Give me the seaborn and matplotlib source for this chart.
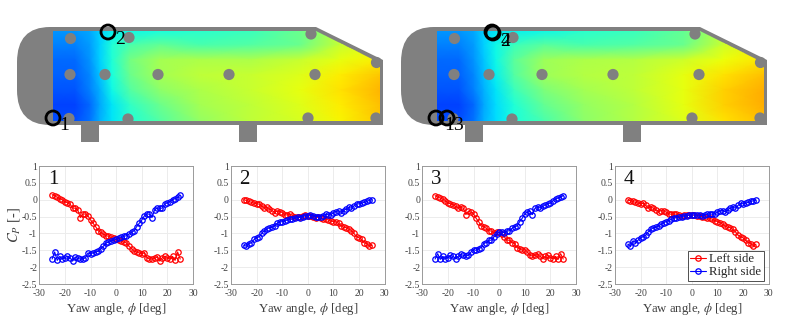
import numpy as np
import pandas as pd
import matplotlib
matplotlib.use("Agg")
import matplotlib.pyplot as plt
import seaborn as sns
from matplotlib.path import Path
from matplotlib.patches import PathPatch, Circle, Rectangle, Polygon

yaw = list(range(-25, 26))

left_1 = [0.15,0.12,0.07,0.03,0.0,-0.06,-0.09,-0.13,-0.25,-0.25,-0.3,-0.53,-0.43,-0.42,-0.48,-0.6,-0.7,-0.8,-0.92,-0.97,-1.02,-1.07,-1.08,-1.12,-1.15,
          -1.18,-1.2,-1.23,-1.26,-1.28,-1.38,-1.45,-1.53,-1.55,-1.58,-1.6,-1.58,-1.72,-1.76,-1.76,-1.74,-1.7,-1.82,-1.72,-1.68,-1.72,-1.76,-1.68,-1.8,-1.55,-1.76]
right_1 = [-1.76,-1.55,-1.8,-1.68,-1.76,-1.72,-1.68,-1.72,-1.82,-1.7,-1.74,-1.76,-1.76,-1.72,-1.58,-1.6,-1.58,-1.55,-1.53,-1.45,-1.38,-1.28,-1.26,-1.23,-1.2,
           -1.18,-1.15,-1.12,-1.08,-1.07,-1.02,-0.97,-0.92,-0.8,-0.7,-0.6,-0.48,-0.42,-0.43,-0.53,-0.3,-0.25,-0.25,-0.25,-0.13,-0.09,-0.06,0.0,0.03,0.07,0.13]
left_2 = [0.0,-0.02,-0.05,-0.08,-0.1,-0.12,-0.13,-0.18,-0.25,-0.23,-0.27,-0.32,-0.38,-0.33,-0.35,-0.38,-0.45,-0.45,-0.43,-0.47,-0.5,-0.5,-0.5,-0.47,-0.45,
          -0.47,-0.48,-0.5,-0.53,-0.52,-0.55,-0.57,-0.58,-0.6,-0.63,-0.65,-0.66,-0.7,-0.78,-0.82,-0.83,-0.87,-0.92,-1.0,-1.1,-1.13,-1.18,-1.28,-1.3,-1.38,-1.35]
right_2 = [-1.35,-1.38,-1.3,-1.28,-1.18,-1.13,-1.1,-1.0,-0.92,-0.87,-0.83,-0.82,-0.78,-0.7,-0.66,-0.65,-0.63,-0.6,-0.58,-0.57,-0.55,-0.52,-0.53,-0.5,-0.48,
           -0.47,-0.45,-0.47,-0.5,-0.5,-0.5,-0.47,-0.43,-0.45,-0.45,-0.38,-0.35,-0.33,-0.38,-0.32,-0.27,-0.23,-0.25,-0.18,-0.13,-0.12,-0.1,-0.08,-0.05,-0.02,0.0]
left_3 = [0.12,0.08,0.05,0.02,-0.03,-0.1,-0.12,-0.15,-0.2,-0.24,-0.23,-0.25,-0.44,-0.34,-0.37,-0.42,-0.55,-0.65,-0.78,-0.8,-0.85,-0.92,-0.93,-0.98,-0.95,
          -0.97,-1.03,-1.1,-1.2,-1.2,-1.27,-1.3,-1.42,-1.45,-1.5,-1.48,-1.55,-1.65,-1.67,-1.65,-1.62,-1.68,-1.75,-1.68,-1.65,-1.72,-1.75,-1.68,-1.77,-1.6,-1.76]
right_3 = [-1.76,-1.6,-1.77,-1.68,-1.75,-1.72,-1.65,-1.68,-1.75,-1.68,-1.62,-1.65,-1.67,-1.65,-1.55,-1.48,-1.5,-1.45,-1.42,-1.3,-1.27,-1.2,-1.2,-1.1,-1.03,
           -0.97,-0.95,-0.98,-0.93,-0.92,-0.85,-0.8,-0.78,-0.65,-0.55,-0.42,-0.37,-0.34,-0.44,-0.25,-0.23,-0.24,-0.2,-0.15,-0.12,-0.1,-0.03,0.02,0.05,0.08,0.12]
left_4 = [-0.01,-0.03,-0.05,-0.08,-0.1,-0.12,-0.11,-0.17,-0.25,-0.22,-0.25,-0.3,-0.36,-0.32,-0.33,-0.37,-0.42,-0.43,-0.42,-0.43,-0.45,-0.47,-0.46,-0.46,-0.45,
          -0.45,-0.46,-0.47,-0.49,-0.5,-0.52,-0.53,-0.55,-0.58,-0.62,-0.65,-0.68,-0.73,-0.78,-0.82,-0.83,-0.88,-0.95,-1.05,-1.1,-1.13,-1.2,-1.27,-1.3,-1.37,-1.32]
right_4 = [-1.32,-1.37,-1.22,-1.27,-1.2,-1.13,-1.1,-1.05,-0.95,-0.88,-0.83,-0.82,-0.78,-0.73,-0.68,-0.65,-0.62,-0.58,-0.55,-0.53,-0.52,-0.5,-0.49,-0.47,-0.46,
           -0.45,-0.45,-0.46,-0.46,-0.47,-0.45,-0.43,-0.42,-0.43,-0.42,-0.37,-0.33,-0.32,-0.36,-0.3,-0.25,-0.22,-0.25,-0.17,-0.11,-0.12,-0.1,-0.08,-0.05,-0.03,-0.01]

panels = ["1", "2", "3", "4"]
lefts = [left_1, left_2, left_3, left_4]
rights = [right_1, right_2, right_3, right_4]
y_ticks = [1, 0.5, 0, -0.5, -1, -1.5, -2, -2.5]
y_labels = ["1", "0.5", "0", "-0.5", "-1", "-1.5", "-2", "-2.5"]
x_ticks = [-30, -20, -10, 0, 10, 20, 30]

# Surface pressure map (jet colormap fraction), columns along the body, rows top to bottom
field_x = [53, 75, 90, 100, 112, 130, 160, 200, 250, 300, 340, 382]
field_y = [31, 45, 60, 75, 90, 105, 121]
field_a = [
    [.27,.27,.29,.33,.36,.37,.38,.40,.42,.48,.57,.62],
    [.25,.25,.28,.33,.39,.44,.47,.44,.45,.48,.59,.64],
    [.23,.23,.27,.33,.39,.49,.55,.56,.56,.59,.63,.66],
    [.22,.22,.26,.32,.38,.48,.55,.58,.59,.62,.66,.70],
    [.21,.21,.25,.30,.37,.45,.52,.56,.59,.63,.67,.72],
    [.19,.19,.23,.29,.35,.41,.48,.55,.58,.62,.66,.71],
    [.20,.20,.24,.30,.35,.39,.45,.53,.58,.61,.65,.70],
]
field_b = [
    [.27,.27,.29,.33,.35,.36,.37,.40,.42,.47,.57,.63],
    [.25,.25,.28,.33,.37,.42,.46,.44,.45,.48,.60,.65],
    [.23,.23,.27,.32,.37,.46,.54,.56,.57,.60,.64,.67],
    [.22,.22,.26,.31,.36,.45,.54,.57,.58,.63,.67,.71],
    [.21,.21,.25,.30,.35,.42,.50,.55,.58,.63,.69,.73],
    [.19,.19,.23,.29,.34,.39,.47,.53,.57,.63,.69,.73],
    [.20,.20,.24,.30,.34,.38,.44,.52,.57,.62,.67,.71],
]

# Body outline and pressure-tap positions of the schematic, in figure pixels
dots_x = [70.5, 129, 311, 376.5, 70, 105, 158, 229, 315, 69, 128, 308, 376]
dots_y = [38.5, 37.5, 34, 62.5, 74.5, 74.5, 74.5, 74.5, 74.5, 118.5, 119, 118, 118]
feet_x = [81, 239]
schem_dx = [0, 384]

rings = [[(53, 118, "1", 64, 125), (108, 32, "2", 120, 40)],
         [(436, 118, "1", 449, 126), (447, 118, "3", 458, 126),
          (492, 32, "2", 505, 42), (493, 33, "4", 506, 42)]]

GRAY = "#808080"
sns.set_theme(style="whitegrid")
plt.rcParams["font.family"] = ["Liberation Serif", "DejaVu Serif"]
plt.rcParams["mathtext.fontset"] = "stix"

W, H = 789, 326
fig = plt.figure(figsize=(W / 100, H / 100), dpi=100)

bg = fig.add_axes([0, 0, 1, 1])
bg.set_xlim(0, W)
bg.set_ylim(H, 0)
bg.axis("off")

for dx, field, marks in zip(schem_dx, [field_a, field_b], rings):
    verts = [(50 + dx, 27), (316 + dx, 27), (383 + dx, 60), (383 + dx, 125), (50 + dx, 125),
             (17 + dx, 125), (17 + dx, 90), (17 + dx, 62), (17 + dx, 27), (50 + dx, 27), (50 + dx, 27)]
    codes = [Path.MOVETO, Path.LINETO, Path.LINETO, Path.LINETO, Path.LINETO,
             Path.CURVE3, Path.CURVE3, Path.LINETO, Path.CURVE3, Path.CURVE3, Path.CLOSEPOLY]
    bg.add_patch(PathPatch(Path(verts, codes), fc=GRAY, ec="none", zorder=1))
    for fx in feet_x:
        bg.add_patch(Rectangle((fx + dx, 124), 18, 18, fc=GRAY, ec="none", zorder=1))
    mesh = bg.pcolormesh(np.array(field_x) + dx, field_y, np.array(field), cmap="jet",
                         vmin=0, vmax=1, shading="gouraud", zorder=2, rasterized=True)
    clip = Polygon([(53 + dx, 31), (316 + dx, 31), (380 + dx, 63), (380 + dx, 121), (53 + dx, 121)],
                   closed=True, transform=bg.transData, fc="none", ec="none")
    bg.add_patch(clip)
    mesh.set_clip_path(clip)
    for px, py in zip(dots_x, dots_y):
        bg.add_patch(Circle((px + dx, py), 5.6, fc=GRAY, ec="none", zorder=3))
    for rx, ry, lab, tx, ty in marks:
        bg.add_patch(Circle((rx, ry), 7, fc="none", ec="black", lw=2.0, zorder=5))
        bg.text(tx, ty, lab, fontsize=14, color="black", ha="center", va="center", zorder=6)

ax_left = [39.3, 231, 422.3, 615]
ax_w = 153.7
ax_top, ax_bottom = 166, 284

for i, (name, l, r) in enumerate(zip(panels, lefts, rights)):
    ax = fig.add_axes([ax_left[i] / W, 1 - ax_bottom / H, ax_w / W, (ax_bottom - ax_top) / H])
    df = pd.DataFrame({"yaw": yaw * 2, "cp": l + r,
                       "side": ["Left side"] * len(yaw) + ["Right side"] * len(yaw)})
    sns.lineplot(data=df, x="yaw", y="cp", hue="side", palette=["#ff0000", "#0000ff"],
                 marker="o", markersize=3.9, markerfacecolor="none", markeredgewidth=0.9,
                 markeredgecolor=None, linewidth=0.8, errorbar=None, legend=(i == 3), ax=ax)
    for line, c in zip(ax.lines, ["#ff0000", "#0000ff"]):
        line.set_markeredgecolor(c)
        line.set_markerfacecolor("none")
    ax.set_xlim(-30, 30)
    ax.set_ylim(-2.5, 1)
    ax.set_xticks(x_ticks)
    ax.set_xticklabels([str(v) for v in x_ticks])
    ax.set_yticks(y_ticks)
    ax.set_yticklabels(y_labels)
    ax.tick_params(labelsize=7, colors="#404040", length=0)
    ax.tick_params(axis="x", pad=3.5)
    ax.tick_params(axis="y", pad=1.5)
    ax.grid(True, color="#ececec", lw=0.7)
    for s in ax.spines.values():
        s.set_color("#9a9a9a")
        s.set_linewidth(0.7)
    ax.set_xlabel(r"Yaw angle, $\phi$ [deg]", fontsize=9.2, color="#404040", labelpad=2)
    ax.set_ylabel(r"$C_P$ [-]" if i == 0 else "", fontsize=10.5, color="#404040", labelpad=0)
    ax.text(0.055, 0.97, name, transform=ax.transAxes, fontsize=15, color="#111111",
            ha="left", va="top")
    if i == 3:
        leg = ax.legend(loc="lower right", fontsize=9.2, frameon=True, fancybox=False, framealpha=1,
                        edgecolor="#333333", borderpad=0.2, labelspacing=0.1, handlelength=1.25,
                        handletextpad=0.25, bbox_to_anchor=(0.969, 0.025), borderaxespad=0)
        leg.get_frame().set_linewidth(0.6)
        for h, c in zip(leg.legend_handles, ["#ff0000", "#0000ff"]):
            h.set_markeredgecolor(c)
            h.set_markerfacecolor("none")

fig.savefig("out.png", dpi=100)
